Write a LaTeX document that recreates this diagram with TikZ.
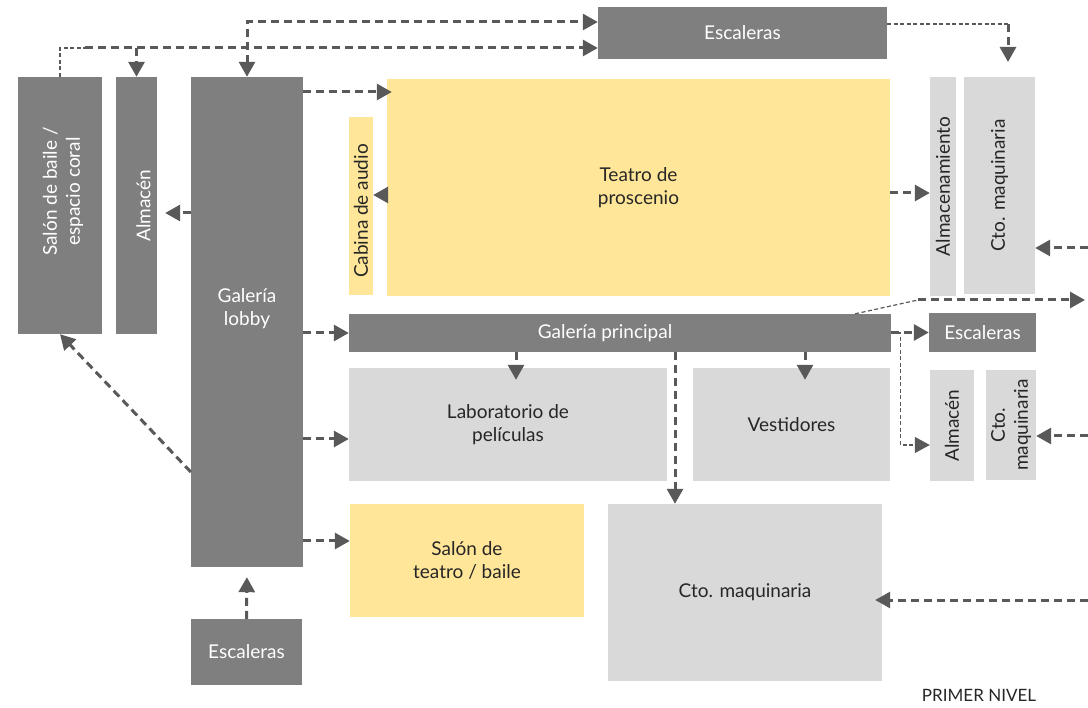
\documentclass[tikz,border=0pt]{standalone}
\usepackage{fontspec}
\setmainfont{Lato}
\usetikzlibrary{arrows.meta,calc}
\definecolor{darkbox}{HTML}{7F7F7F}
\definecolor{yelbox}{HTML}{FFE699}
\definecolor{ltbox}{HTML}{D9D9D9}
\definecolor{conn}{HTML}{595959}
\definecolor{txt}{HTML}{262626}
\tikzset{
  base/.style={rectangle, inner sep=0pt, font=\fontsize{19}{23}\selectfont, align=center},
  dark/.style={base, fill=darkbox, text=white},
  yel/.style={base, fill=yelbox, text=txt},
  lt/.style={base, fill=ltbox, text=txt},
  con/.style={draw=conn, line width=3pt, dash pattern=on 8pt off 5pt, -{Triangle[length=15pt,width=16pt]}},
  conboth/.style={draw=conn, line width=3pt, dash pattern=on 8pt off 5pt, {Triangle[length=15pt,width=16pt]}-{Triangle[length=15pt,width=16pt]}},
  thincon/.style={draw=conn, line width=1.2pt, dash pattern=on 4pt off 2.5pt},
  thinarr/.style={thincon, -{Triangle[length=15pt,width=16pt]}},
}
\begin{document}
\begin{tikzpicture}[x=1pt,y=-1pt]
\useasboundingbox (0,0) rectangle (1088,708);
% boxes
\node[dark, minimum width=289pt, minimum height=52pt] (escT) at (742.5,33) {Escaleras};
\node[dark, minimum width=84pt, minimum height=257pt,
  label={[rotate=90,base,text=white,align=center,xshift=14pt,yshift=-3pt]center:Salón de baile /\\espacio coral}] (salon) at (60,205.5) {};
\node[dark, minimum width=41pt, minimum height=257pt,
  label={[rotate=90,base,text=white,yshift=-7pt]center:Almacén}] (almL) at (136.5,205.5) {};
\node[dark, minimum width=112pt, minimum height=490pt,
  label={[base,text=white,align=center,yshift=13pt]center:Galería\\lobby}] (lobby) at (247,322) {};
\node[yel, minimum width=24pt, minimum height=178pt,
  label={[rotate=90,base,text=txt,xshift=-5pt]center:Cabina de audio}] (cabina) at (361,206) {};
\node[yel, minimum width=503pt, minimum height=217pt] (teatro) at (638.5,187.5) {Teatro de\\proscenio};
\node[lt, minimum width=26pt, minimum height=219pt,
  label={[rotate=90,base,text=txt]center:Almacenamiento}] (almac) at (943,186.5) {};
\node[lt, minimum width=71pt, minimum height=217pt,
  label={[rotate=90,base,text=txt]center:Cto. maquinaria}] (ctoTR) at (999.5,185.5) {};
\node[dark, minimum width=542pt, minimum height=38pt,
  label={[base,text=white,xshift=-15pt]center:Galería principal}] (galP) at (620,333) {};
\node[dark, minimum width=107pt, minimum height=39pt] (escR) at (982.5,332.5) {Escaleras};
\node[lt, minimum width=318pt, minimum height=113pt] (lab) at (508,424.5) {Laboratorio de\\películas};
\node[lt, minimum width=197pt, minimum height=113pt] (vest) at (791.5,424.5) {Vestidores};
\node[lt, minimum width=44pt, minimum height=111pt,
  label={[rotate=90,base,text=txt]center:Almacén}] (almR) at (952,425.5) {};
\node[lt, minimum width=50pt, minimum height=110pt,
  label={[rotate=90,base,text=txt,align=center]center:Cto.\\maquinaria}] (ctoR) at (1011,425) {};
\node[yel, minimum width=234pt, minimum height=113pt] (salT) at (467,560.5) {Salón de\\teatro / baile};
\node[lt, minimum width=274pt, minimum height=177pt] (ctoB) at (745,592.5) {Cto. maquinaria};
\node[dark, minimum width=111pt, minimum height=66pt] (escB) at (246.5,652) {Escaleras};
\node[text=txt, font=\fontsize{17}{20}\selectfont] (nivel) at (979,695) {PRIMER NIVEL};
% free-end coordinates
\coordinate (j1) at (85,48);
\coordinate (c19) at (1008,24);
\coordinate (c19b) at (1008,62);
\coordinate (c15a) at (918,300);
\coordinate (c15b) at (1085,300);
\coordinate (r16) at (1088,248);
\coordinate (r17) at (1088,436);
\coordinate (r18) at (1088,600);
% connectors
\draw[conboth] (lobby.north) |- (escT.west |- 0,22);
\draw[con] (j1) -- (escT.west |- 0,48);
\draw[con] (almL.north |- 0,48) -- (almL.north);
\draw[thincon] (salon.north) |- (j1);
\draw[thincon] (escT.east |- c19) -- (c19);
\draw[con] (c19) -- (c19b);
\draw[con] (lobby.east |- 0,92) -- ([xshift=5pt]teatro.west |- 0,92);
\draw[con] (teatro.west |- 0,195) -- (cabina.east |- 0,195);
\draw[con] (teatro.east |- 0,193) -- (almac.west |- 0,193);
\draw[con, shorten >=8pt] (lobby.west |- 0,213) -- (almL.east |- 0,213);
\draw[con] (lobby.east |- galP.west) -- (galP.west);
\draw[con] (lobby.east |- 0,439) -- (lab.west |- 0,439);
\draw[con] (lobby.east |- 0,541) -- (salT.west |- 0,541);
\draw[con] (lobby.west |- 0,472) -- (salon.south);
\draw[con, shorten >=10pt] (escB.north) -- (lobby.south);
\draw[con] (galP.south -| 516,0) -- ([yshift=-12pt]lab.north -| 516,0);
\draw[con] (galP.south -| 805,0) -- ([yshift=-12pt]vest.north -| 805,0);
\draw[con] (galP.south -| 675,0) -- (ctoB.north -| 675,0);
\draw[con] (galP.east |- escR.west) -- (escR.west);
\draw[thinarr] (galP.east) -- ++(9,0) |- (almR.west |- 0,445);
\draw[thincon] ([xshift=-36pt]galP.north east) -- (c15a);
\draw[con] (c15a) -- (c15b);
\draw[con] (r16) -- (ctoTR.east |- r16);
\draw[con] (r17) -- (ctoR.east |- r17);
\draw[con] (r18) -- ([xshift=-7pt]ctoB.east |- r18);
\end{tikzpicture}
\end{document}
